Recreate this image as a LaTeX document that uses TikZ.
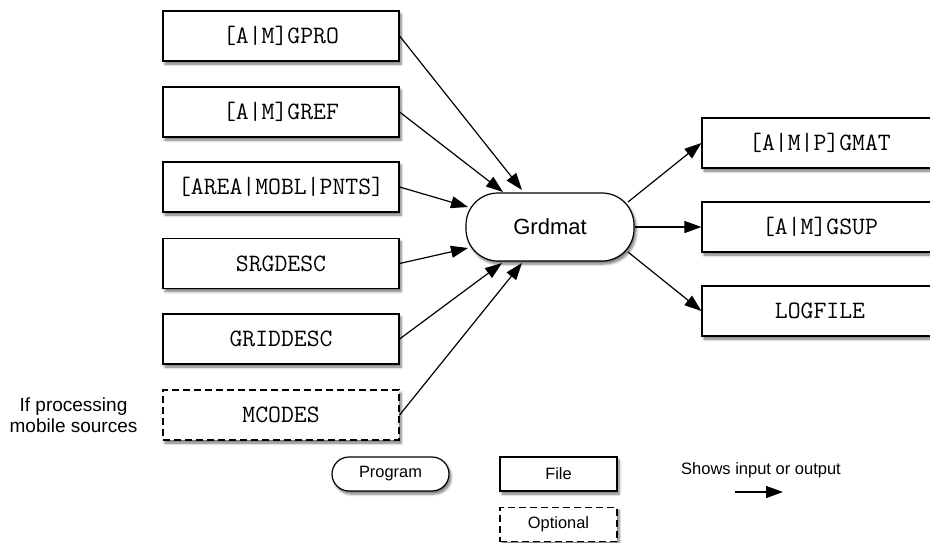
\documentclass[tikz,border=0pt]{standalone}
\usepackage{fontspec}
\setmainfont{Liberation Sans}
\usetikzlibrary{arrows.meta,calc,shadows,shadows.blur}
\begin{document}
\begin{tikzpicture}[x=1pt,y=-1pt,
  shadowed/.style={blur shadow={shadow blur steps=6,shadow xshift=2pt,shadow yshift=-3pt,shadow opacity=55,shadow blur radius=2.5pt}},
  filebox/.style={draw,line width=1.2pt,fill=white,minimum width=236pt,minimum height=50pt,inner sep=0pt,font=\ttfamily\fontsize{25}{28}\selectfont,shadowed},
  optbox/.style={filebox,dash pattern=on 7pt off 4pt},
  prog/.style={draw,line width=1.2pt,fill=white,rounded corners=32pt,minimum width=168pt,minimum height=68pt,inner sep=0pt,font=\fontsize{22}{26}\selectfont,shadowed},
  legprog/.style={draw,line width=1.2pt,fill=white,rounded corners=17pt,minimum width=117pt,minimum height=34pt,inner sep=0pt,font=\fontsize{16.4}{19}\selectfont,shadowed},
  legfile/.style={draw,line width=1.2pt,fill=white,minimum width=117pt,minimum height=34pt,inner sep=0pt,font=\fontsize{16.4}{19}\selectfont,shadowed},
  legopt/.style={legfile,dash pattern=on 7pt off 4pt},
  flow/.style={line width=1.2pt,-{Triangle[length=17pt,width=12pt]}},
  note/.style={font=\fontsize{16.5}{20}\selectfont,inner sep=0pt}]
\useasboundingbox (0,0) rectangle (930,542);
\clip (0,0) rectangle (930,542);
% input files
\node[filebox] (gpro) at (281,36) {[A|M]GPRO};
\node[filebox] (gref) at (281,112) {[A|M]GREF};
\node[filebox] (area) at (281,187) {[AREA|MOBL|PNTS]};
\node[filebox] (srg) at (281,263.5) {SRGDESC};
\node[filebox] (grid) at (281,339) {GRIDDESC};
\node[optbox] (mcodes) at (281,415) {MCODES};
\node[align=center,font=\fontsize{19}{21.5}\selectfont,inner sep=0pt] (ifproc) at (73.5,415) {If processing\\mobile sources};
% program
\node[prog] (g) at (550,227) {Grdmat};
% outputs
\node[filebox] (gmat) at (820,143) {[A|M|P]GMAT};
\node[filebox] (gsup) at (820,227) {[A|M]GSUP};
\node[filebox] (log) at (820,311) {LOGFILE};
% input arrows
\draw[flow] (gpro.east) -- ($(g.center)+(-28,-37)$);
\draw[flow] (gref.east) -- ($(g.center)+(-47,-35)$);
\draw[flow] (area.east) -- ($(g.center)+(-82,-20)$);
\draw[flow] (srg.east) -- ($(g.center)+(-82,21)$);
\draw[flow] (grid.east) -- ($(g.center)+(-48,36)$);
\draw[flow] (mcodes.east) -- ($(g.center)+(-28,36)$);
% output arrows
\draw[flow] ($(g.center)+(78,-25)$) -- (gmat.west);
\draw[flow] (g.east) -- (gsup.west);
\draw[flow] ($(g.center)+(78,25)$) -- (log.west);
% legend
\node[legprog] (lprog) at (390.5,474) {Program};
\node[legfile] (lfile) at (558.5,474) {File};
\node[legopt] (lopt) at (558.5,524.5) {Optional};
\node[note] (lshow) at (761,470) {Shows input or output};
\coordinate (la) at (735,492);
\coordinate (lb) at (783,492);
\draw[flow] (la) -- (lb);
\end{tikzpicture}
\end{document}
